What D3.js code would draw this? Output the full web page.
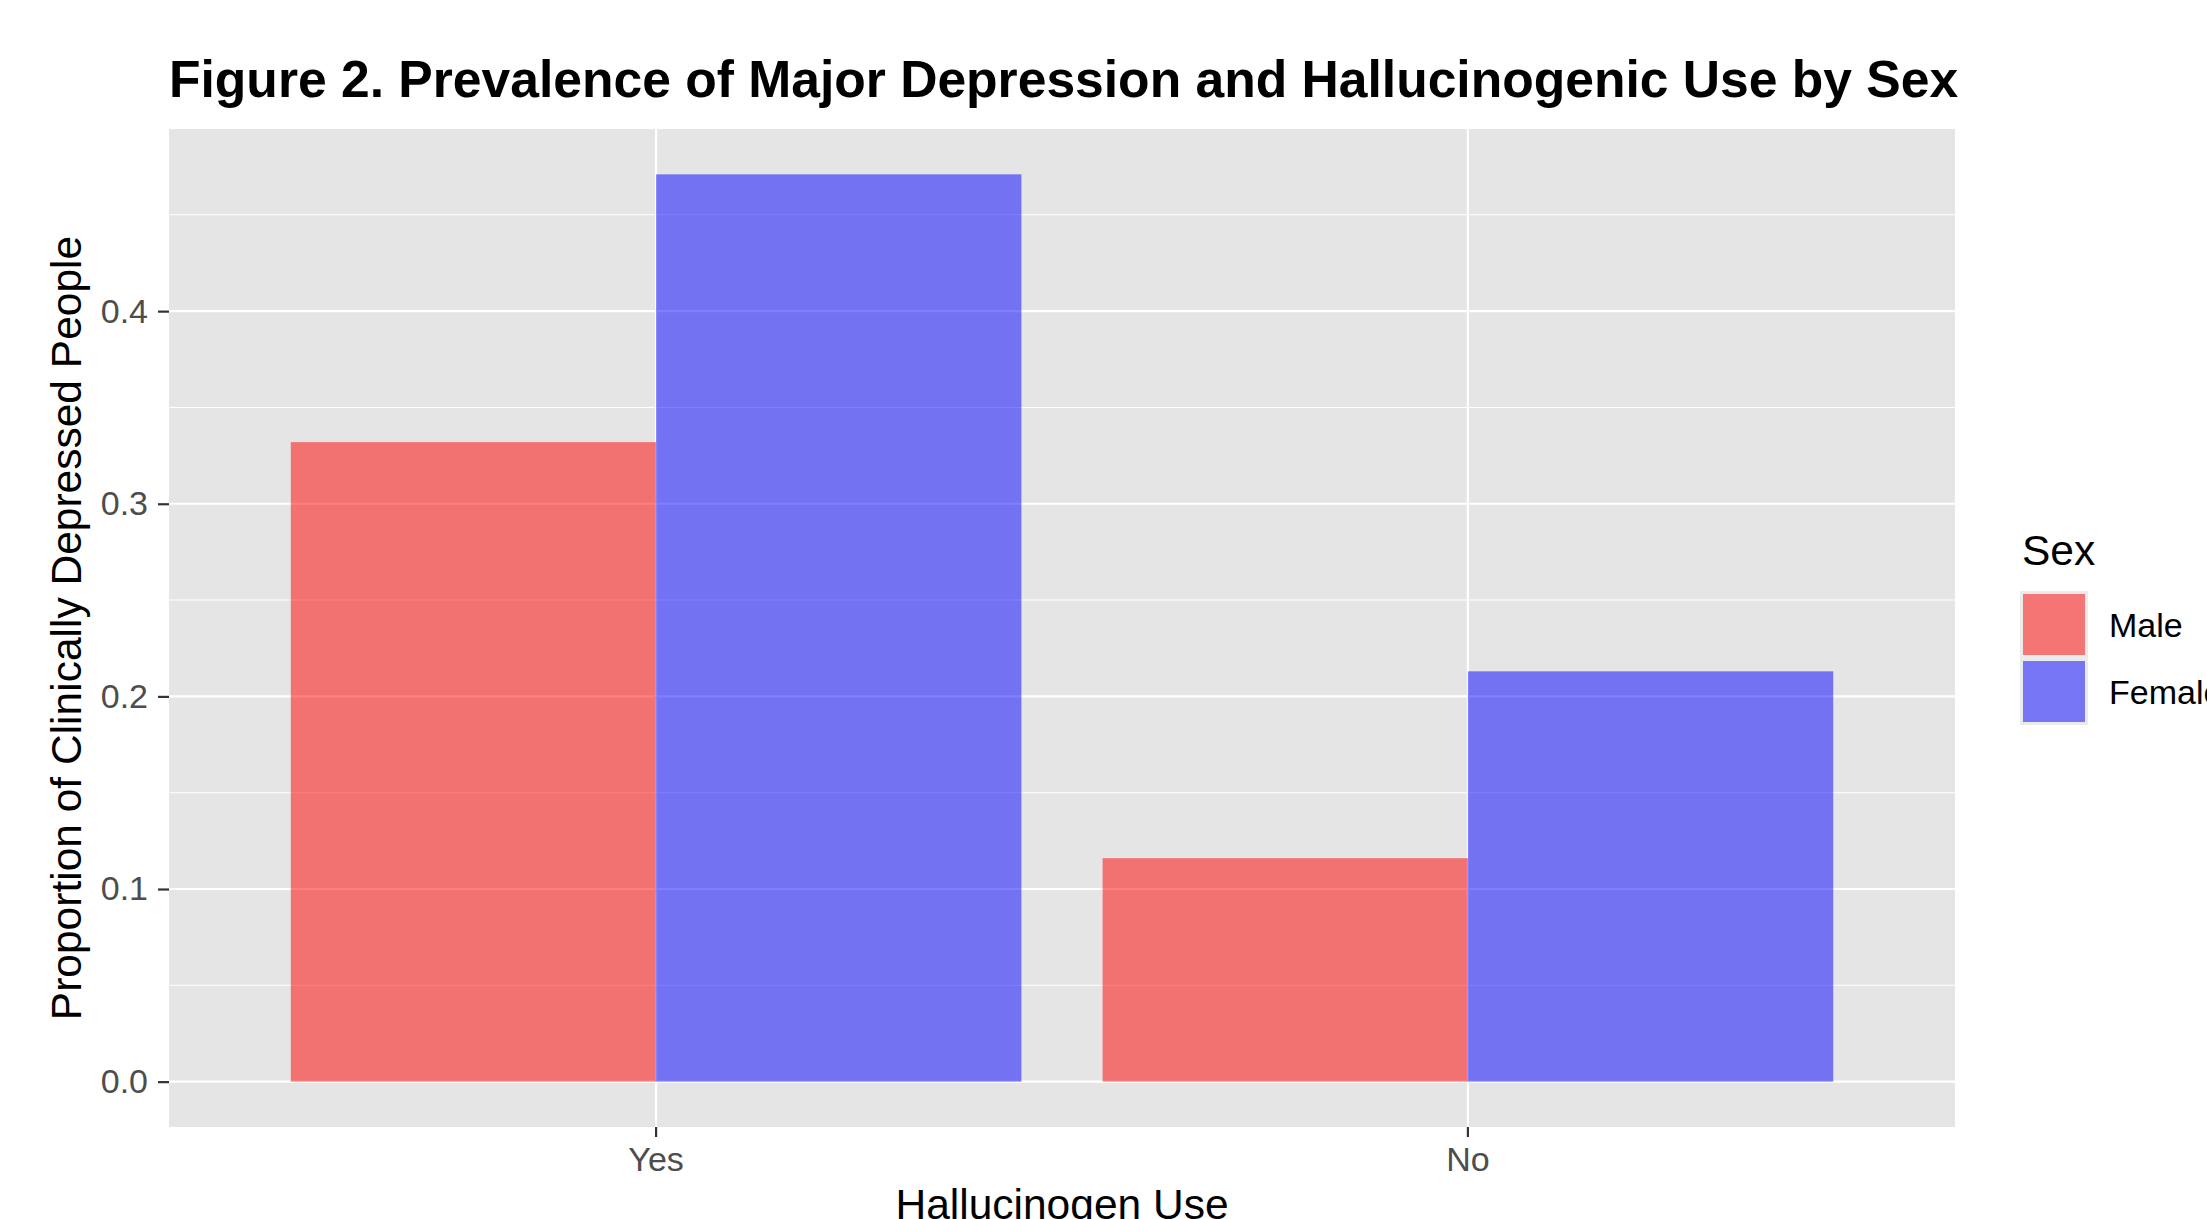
<!DOCTYPE html>
<html>
<head>
<meta charset="utf-8">
<script src="https://cdn.jsdelivr.net/npm/d3@7"></script>
<style>
  body { margin: 0; background: #fff; }
  svg { display: block; font-family: 'Liberation Sans', Arial, Helvetica, sans-serif; }
</style>
</head>
<body>
<svg></svg>
<script>
// chart data
const useGroups = ['Yes', 'No'];
const sexes = ['Male', 'Female'];
const maleValues = [0.332, 0.116];
const femaleValues = [0.471, 0.213];
const yTicks = [0, 0.1, 0.2, 0.3, 0.4];
const yMinorTicks = [0.05, 0.15, 0.25, 0.35, 0.45];
const sexColors = ['red', 'blue'];

const width = 2207, height = 1219;
const margin = {top: 129, right: 252, bottom: 92, left: 169};
const innerWidth = width - margin.left - margin.right;
const innerHeight = height - margin.top - margin.bottom;

const svg = d3.select('svg')
  .attr('width', width)
  .attr('height', height);

const rows = useGroups.map((u, i) => ({use: u, Male: maleValues[i], Female: femaleValues[i]}));

const maxVal = d3.max([...maleValues, ...femaleValues]);
const pad = maxVal * 0.05;

const xScale = d3.scaleBand()
  .domain(useGroups)
  .range([0, innerWidth])
  .paddingInner(0.1)
  .paddingOuter(0.15);

const sexScale = d3.scaleBand()
  .domain(sexes)
  .range([0, xScale.bandwidth()]);

const yScale = d3.scaleLinear()
  .domain([-pad, maxVal + pad])
  .range([innerHeight, 0]);

const color = d3.scaleOrdinal().domain(sexes).range(sexColors);

// title
svg.append('text')
  .attr('x', margin.left)
  .attr('y', 97)
  .style('font-size', '51.6px')
  .style('font-weight', 'bold')
  .text('Figure 2. Prevalence of Major Depression and Hallucinogenic Use by Sex');

const g = svg.append('g')
  .attr('transform', `translate(${margin.left}, ${margin.top})`);

// panel + grid
g.append('rect')
  .attr('width', innerWidth)
  .attr('height', innerHeight)
  .attr('fill', '#E5E5E5');

g.selectAll('.minor').data(yMinorTicks)
  .enter().append('line')
  .attr('x1', 0).attr('x2', innerWidth)
  .attr('y1', d => yScale(d)).attr('y2', d => yScale(d))
  .attr('stroke', '#fff').attr('stroke-width', 1.1);

g.selectAll('.major').data(yTicks)
  .enter().append('line')
  .attr('x1', 0).attr('x2', innerWidth)
  .attr('y1', d => yScale(d)).attr('y2', d => yScale(d))
  .attr('stroke', '#fff').attr('stroke-width', 2.2);

g.selectAll('.vmajor').data(useGroups)
  .enter().append('line')
  .attr('x1', d => xScale(d) + xScale.bandwidth() / 2)
  .attr('x2', d => xScale(d) + xScale.bandwidth() / 2)
  .attr('y1', 0).attr('y2', innerHeight)
  .attr('stroke', '#fff').attr('stroke-width', 2.2);

// bars
const groups = g.selectAll('.grp').data(rows)
  .enter().append('g')
  .attr('transform', d => `translate(${xScale(d.use)}, 0)`);

groups.selectAll('rect').data(d => sexes.map(s => ({sex: s, value: d[s]})))
  .enter().append('rect')
  .attr('x', d => sexScale(d.sex))
  .attr('width', sexScale.bandwidth())
  .attr('y', d => yScale(d.value))
  .attr('height', d => yScale(0) - yScale(d.value))
  .attr('fill', d => color(d.sex))
  .attr('fill-opacity', 0.5);

// axes
const yAxis = g.append('g')
  .call(d3.axisLeft(yScale).tickValues(yTicks).tickFormat(d3.format('.1f')).tickSize(11).tickPadding(10));
yAxis.select('.domain').remove();
yAxis.selectAll('.tick line').attr('stroke', '#333').attr('stroke-width', 2.2);
yAxis.selectAll('.tick text').attr('fill', '#4D4D4D').style('font-size', '34px').style('font-family', 'inherit');

const xAxis = g.append('g')
  .attr('transform', `translate(0, ${innerHeight})`)
  .call(d3.axisBottom(xScale).tickSize(10).tickPadding(10));
xAxis.select('.domain').remove();
xAxis.selectAll('.tick line').attr('stroke', '#333').attr('stroke-width', 2.2);
xAxis.selectAll('.tick text').attr('fill', '#4D4D4D').style('font-size', '34px').style('font-family', 'inherit');

// axis titles
svg.append('text')
  .attr('x', margin.left + innerWidth / 2)
  .attr('y', 1219)
  .attr('text-anchor', 'middle')
  .style('font-size', '42.5px')
  .text('Hallucinogen Use');

svg.append('text')
  .attr('transform', `translate(81, ${margin.top + innerHeight / 2}) rotate(-90)`)
  .attr('text-anchor', 'middle')
  .style('font-size', '42.5px')
  .text('Proportion of Clinically Depressed People');

// legend
const legend = svg.append('g').attr('transform', 'translate(2020, 0)');
legend.append('text')
  .attr('x', 2).attr('y', 565)
  .style('font-size', '42.5px')
  .text('Sex');

const keys = legend.selectAll('.key').data(sexes)
  .enter().append('g')
  .attr('transform', (d, i) => `translate(0, ${591 + i * 67})`);
keys.append('rect')
  .attr('width', 68).attr('height', 67)
  .attr('fill', '#EBEBEB');
keys.append('rect')
  .attr('x', 3).attr('y', 3)
  .attr('width', 62).attr('height', 61)
  .attr('fill', d => color(d))
  .attr('fill-opacity', 0.5);
keys.append('text')
  .attr('x', 89).attr('y', 46)
  .style('font-size', '34px')
  .text(d => d);
</script>
</body>
</html>
